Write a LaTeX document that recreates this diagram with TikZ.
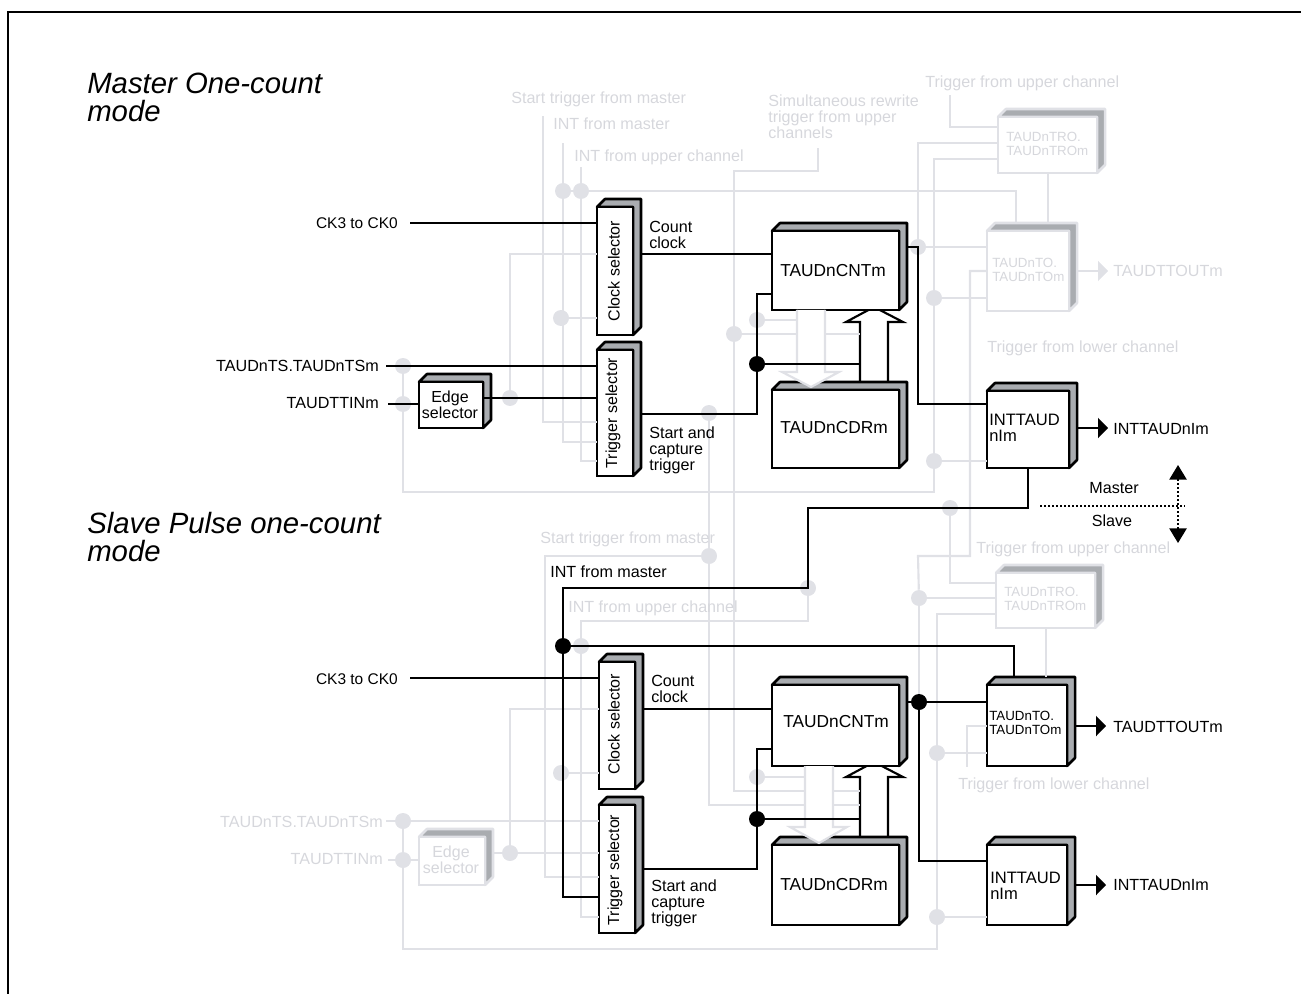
\documentclass[tikz,border=0pt]{standalone}
\usepackage{fontspec}
\setmainfont{Liberation Sans}
\usepackage{xcolor}
\usepackage{tikz}
\usetikzlibrary{arrows.meta,positioning,calc}

\definecolor{fadegray}{HTML}{E0E1E6}
\definecolor{shadegray}{HTML}{A9ACB0}

\tikzset{
  wire/.style={black, line width=1.6pt},
  fwire/.style={fadegray, line width=1.6pt},
  dotb/.style={circle, fill=black, inner sep=0pt, minimum size=16*0.75pt},
  dotf/.style={circle, fill=fadegray, inner sep=0pt, minimum size=16*0.75pt},
  lbl/.style={anchor=west, align=left, inner sep=0pt, font=\fontsize{12.1pt}{12pt}\selectfont},
  flbl/.style={lbl, text=fadegray!90!gray},
  rlbl/.style={lbl, anchor=east},
  frlbl/.style={flbl, anchor=east},
  boxtxt/.style={lbl, font=\fontsize{12pt}{12pt}\selectfont},
  bigtxt/.style={lbl, font=\fontsize{13pt}{12pt}\selectfont},
  inttxt/.style={lbl, font=\fontsize{12.4pt}{12pt}\selectfont},
  regtxt/.style={lbl, font=\fontsize{10pt}{10.6pt}\selectfont},
  title/.style={lbl, font=\fontsize{22pt}{21pt}\selectfont\itshape},
  outtip/.style={-{Triangle[length=7.5pt,width=15pt]}}
}

% block with shaded top and side: name, line colour, x0, y0, x1, y1
\newcommand{\blockbox}[6]{
  \filldraw[draw=#2, fill=shadegray, line width=1.9pt, line join=round]
    (#3,#4) -- ++(8,-8) -- (#5+8,#4-8) -- (#5+8,#6-8) -- (#5,#6) -- (#5,#4) -- cycle;
  \node[draw=#2, fill=white, line width=1.9pt, inner sep=0pt, outer sep=0pt,
    minimum width={(#5-#3)*0.75pt}, minimum height={(#6-#4)*0.75pt}]
    (#1) at ({(#3+#5)/2},{(#4+#6)/2}) {};
  \coordinate (#1ne) at (#5+8,#4-8);
}

\begin{document}
\begin{tikzpicture}[x=0.75pt, y=-0.75pt]
\useasboundingbox (0,0) rectangle (1301,994);

% Frame
\coordinate (frameA) at (1301,12);
\coordinate (frameB) at (8,12);
\coordinate (frameC) at (8,994);
\draw[line width=1.5pt] (frameA) -- (frameB) -- (frameC);

% Free wire ends
\foreach \n/\x/\y in {ckA/410/223, tsA/386/366, inA/388/404, fStA/543/116, fIntA/563/143, fUpA/581/167,
  fSimA/818/148, fUpB/950/95, ckB/410/678, fTsB/386/821, fInB/388/860, fLowB/967/767,
  outA/1108/271, outB/1108/428, outC/1106/726, outD/1106/885, tipUp/1178/465, tipDn/1178/543,
  msA/1040/506, msB/1185/506}{
  \coordinate (\n) at (\x,\y);
}

% Big transfer arrows go under the blocks
\filldraw[wire, fill=white] (860,382) -- (860,322) -- (846,322) -- (874,307) -- (903,322) -- (888,322) -- (888,382);
\filldraw[wire, fill=white] (860,837) -- (860,777) -- (846,777) -- (874,762) -- (903,777) -- (888,777) -- (888,837);

% Blocks, upper part
\blockbox{clkA}{black}{597}{207}{633}{335}
\blockbox{trgA}{black}{597}{350}{633}{476}
\blockbox{edgA}{black}{419}{382}{483}{428}
\blockbox{cntA}{black}{772}{231}{899}{310}
\blockbox{cdrA}{black}{772}{390}{899}{468}
\blockbox{troA}{fadegray}{998}{117}{1097}{173}
\blockbox{toA}{fadegray}{987}{231}{1069}{311}
\blockbox{intA}{black}{987}{391}{1069}{468}

% Blocks, lower part
\blockbox{clkB}{black}{599}{662}{635}{789}
\blockbox{trgB}{black}{599}{805}{635}{933}
\blockbox{edgB}{fadegray}{419}{837}{485}{885}
\blockbox{cntB}{black}{772}{685}{899}{766}
\blockbox{cdrB}{black}{772}{845}{899}{925}
\blockbox{troB}{fadegray}{996}{573}{1095}{628}
\blockbox{toB}{black}{987}{685}{1067}{766}
\blockbox{intB}{black}{987}{845}{1067}{925}

% Faint junctions
\foreach \n/\x/\y in {fa/563/191, fb/581/191, fc/561/318, fd/510/398, fe/403/366, ff/403/404,
  fg/734/334, fh/757/320, fi/709/413, fj/918/247, fk/934/298, fl/934/461, fm/950/508,
  fn/709/556, fo/808/588, fp/581/646, fq/561/773, fr/757/777, fs/510/853, ft/403/821,
  fu/403/860, fv/919/598, fw/937/753, fx/937/917}{
  \node[dotf] (\n) at (\x,\y) {};
}

% Faint wires, upper part
\draw[fwire] (fStA) -- (543,422) -- (trgA.west |- 0,422);
\draw[fwire] (fIntA) -- (fa) -- (563,442) -- (trgA.west |- 0,442);
\draw[fwire] (fUpA) -- (fb) -- (581,461) -- (trgA.west |- 0,461);
\draw[fwire] (fa) -- (fb) -- (1016,191) -- (1016,0 |- toAne);
\draw[fwire] (fc) -- (clkA.west |- fc);
\draw[fwire] (fd) -- (510,254) -- (clkA.west |- 0,254);
\draw[fwire] (fe) -- (ff) -- (403,492) -- (934,492) -- (fl) -- (fk) -- (934,159) -- (troA.west |- 0,159);
\draw[fwire] (fSimA) -- (818,171) -- (734,171) -- (fg) -- (734,791) -- (860,791);
\draw[fwire] (fg) -- (860,334);
\draw[fwire] (fh) -- (797,320);
\draw[fwire] (fi) -- (fn) -- (709,805) -- (860,805);
\draw[fwire] (fUpB) -- (950,127) -- (troA.west |- 0,127);
\draw[fwire] (troA.west |- 0,143) -- (918,143) -- (fj) -- (toA.west |- fj);
\draw[fwire] (fk) -- (toA.west |- fk);
\draw[fwire] (fl) -- (intA.west |- fl);
\draw[fwire] (troA.south -| 1048,0) -- (1048,0 |- toAne);
\draw[fwire] (toA.west |- 0,271) -- (970,271) -- (970,556) -- (918,556) -- (fv);
\draw[fwire, outtip] (toAne |- outA) -- (outA);

% Faint wires, lower part
\draw[fwire] (fn) -- (545,556) -- (545,877) -- (trgB.west |- 0,877);
\draw[fwire] (fo) -- (808,621) -- (581,621) -- (fp) -- (581,917) -- (trgB.west |- 0,917);
\draw[fwire] (fq) -- (clkB.west |- fq);
\draw[fwire] (fr) -- (805,777);
\draw[fwire] (fTsB) -- (ft) -- (trgB.west |- ft);
\draw[fwire] (fInB) -- (fu) -- (edgB.west |- fu);
\draw[fwire] (ft) -- (fu) -- (403,949) -- (937,949) -- (fx) -- (fw) -- (937,614) -- (troB.west |- 0,614);
\draw[fwire] (fw) -- (toB.west |- fw);
\draw[fwire] (fx) -- (intB.west |- fx);
\draw[fwire] (fm) -- (950,583) -- (troB.west |- 0,583);
\draw[fwire] (fv) -- (troB.west |- fv);
\draw[fwire] (fv) -- (919,702);
\draw[fwire] (edgBne |- 0,853) -- (fs) -- (trgB.west |- fs);
\draw[fwire] (fs) -- (510,709) -- (clkB.west |- 0,709);
\draw[fwire] (fLowB) -- (967,726) -- (toB.west |- 0,726);
\draw[fwire] (troB.south -| 1046,0) -- (1046,0 |- toBne);

% Faint down arrows lie over the register tops
\filldraw[fwire, fill=white] (797,310) -- (797,372) -- (782,372) -- (811,387) -- (839,372) -- (825,372) -- (825,310);
\filldraw[fwire, fill=white] (805,766) -- (805,827) -- (790,827) -- (819,843) -- (847,827) -- (833,827) -- (833,766);

% Black wires, upper part
\node[dotb] (jcA) at (757,364) {};
\draw[wire] (ckA) -- (clkA.west |- ckA);
\draw[wire] (tsA) -- (trgA.west |- tsA);
\draw[wire] (inA) -- (edgA.west |- inA);
\draw[wire] (edgA.east |- 0,398) -- (trgA.west |- 0,398);
\draw[wire] (clkAne |- 0,254) -- (cntA.west |- 0,254);
\draw[wire] (trgAne |- 0,414) -- (757,414) -- (jcA) -- (757,294) -- (cntA.west |- 0,294);
\draw[wire] (jcA) -- (860,364);
\draw[wire] (cntAne |- 0,247) -- (918,247) -- (918,404) -- (intA.west |- 0,404);
\draw[wire, outtip] (intAne |- outB) -- (outB);

% Black wires, lower part
\node[dotb] (jcB) at (563,646) {};
\node[dotb] (jcC) at (757,819) {};
\node[dotb] (jcD) at (919,702) {};
\draw[wire] (intA.south -| 1028,0) -- (1028,508) -- (808,508) -- (808,588) -- (563,588) -- (jcB) -- (563,897) -- (trgB.west |- 0,897);
\draw[wire] (jcB) -- (1014,646) -- (1014,0 |- toBne);
\draw[wire] (ckB) -- (clkB.west |- ckB);
\draw[wire] (clkBne |- 0,709) -- (cntB.west |- 0,709);
\draw[wire] (trgBne |- 0,869) -- (757,869) -- (jcC) -- (757,749) -- (cntB.west |- 0,749);
\draw[wire] (jcC) -- (860,819);
\draw[wire] (cntBne |- jcD) -- (jcD) -- (toB.west |- jcD);
\draw[wire] (jcD) -- (919,861) -- (intB.west |- 0,861);
\draw[wire, outtip] (toBne |- outC) -- (outC);
\draw[wire, outtip] (intBne |- outD) -- (outD);

% Master / Slave divider
\draw[wire, line width=1.2pt, dash pattern=on 1.5pt off 1.5pt] (msA) -- (msB);
\draw[wire, line width=1.2pt, dash pattern=on 1.5pt off 1.5pt, {Triangle[length=11pt,width=13pt]}-{Triangle[length=11pt,width=13pt]}] (tipUp) -- (tipDn);
\node[lbl, anchor=center] (master) at (1114,488) {Master};
\node[lbl, anchor=center] (slave) at (1112,521) {Slave};

% Texts, upper part
\node[title] (titleA) at (87,97) {Master One-count\\mode};
\node[rlbl, font=\fontsize{11.6pt}{12pt}\selectfont] (lckA) at (398,223) {CK3 to CK0};
\node[rlbl] (ltsA) at (379,366) {TAUDnTS.TAUDnTSm};
\node[rlbl] (linA) at (379,403) {TAUDTTINm};
\node[boxtxt, anchor=center, align=center] (ledgA) at (450,405) {Edge\\selector};
\node[boxtxt, anchor=center, rotate=90] (lclkA) at (614,271) {Clock selector};
\node[boxtxt, anchor=center, rotate=90] (ltrgA) at (613,413) {Trigger selector};
\node[lbl] (lccA) at (649,235) {Count\\clock};
\node[lbl] (lscA) at (649,450) {Start and\\capture\\trigger};
\node[bigtxt] (lcntA) at (780,271) {TAUDnCNTm};
\node[bigtxt] (lcdrA) at (780,428) {TAUDnCDRm};
\node[inttxt] (lintA) at (989,428) {INTTAUD\\nIm};
\node[lbl] (loutB) at (1113,429) {INTTAUDnIm};
\node[regtxt, text=fadegray!90!gray] (ltroA) at (1006,144) {TAUDnTRO.\\TAUDnTROm};
\node[regtxt, text=fadegray!90!gray] (ltoA) at (992,270) {TAUDnTO.\\TAUDnTOm};
\node[flbl] (loutA) at (1113,271) {TAUDTTOUTm};
\node[flbl] (lstA) at (511,99) {Start trigger from master};
\node[flbl] (lmaA) at (553,124) {INT from master};
\node[flbl] (lupA) at (574,157) {INT from upper channel};
\node[flbl] (lsimA) at (768,117) {Simultaneous rewrite\\trigger from upper\\channels};
\node[flbl] (lupcA) at (925,83) {Trigger from upper channel};
\node[flbl] (llowA) at (987,348) {Trigger from lower channel};

% Texts, lower part
\node[title] (titleB) at (87,537) {Slave Pulse one-count\\mode};
\node[rlbl, font=\fontsize{11.6pt}{12pt}\selectfont] (lckB) at (398,679) {CK3 to CK0};
\node[frlbl] (ltsB) at (383,822) {TAUDnTS.TAUDnTSm};
\node[frlbl] (linB) at (383,859) {TAUDTTINm};
\node[boxtxt, anchor=center, align=center, text=fadegray!90!gray] (ledgB) at (451,860) {Edge\\selector};
\node[boxtxt, anchor=center, rotate=90] (lclkB) at (614,724) {Clock selector};
\node[boxtxt, anchor=center, rotate=90] (ltrgB) at (615,870) {Trigger selector};
\node[lbl] (lccB) at (651,689) {Count\\clock};
\node[lbl] (lscB) at (651,903) {Start and\\capture\\trigger};
\node[bigtxt] (lcntB) at (783,722) {TAUDnCNTm};
\node[bigtxt] (lcdrB) at (780,885) {TAUDnCDRm};
\node[inttxt] (lintB) at (990,886) {INTTAUD\\nIm};
\node[regtxt] (ltoB) at (989,723) {TAUDnTO.\\TAUDnTOm};
\node[lbl] (loutC) at (1113,727) {TAUDTTOUTm};
\node[lbl] (loutD) at (1113,885) {INTTAUDnIm};
\node[regtxt, text=fadegray!90!gray] (ltroB) at (1004,599) {TAUDnTRO.\\TAUDnTROm};
\node[flbl] (lstB) at (540,539) {Start trigger from master};
\node[lbl] (lmaB) at (550,572) {INT from master};
\node[flbl] (lupB) at (568,608) {INT from upper channel};
\node[flbl] (lupcB) at (976,549) {Trigger from upper channel};
\node[flbl] (llowB) at (958,785) {Trigger from lower channel};

\end{tikzpicture}
\end{document}
